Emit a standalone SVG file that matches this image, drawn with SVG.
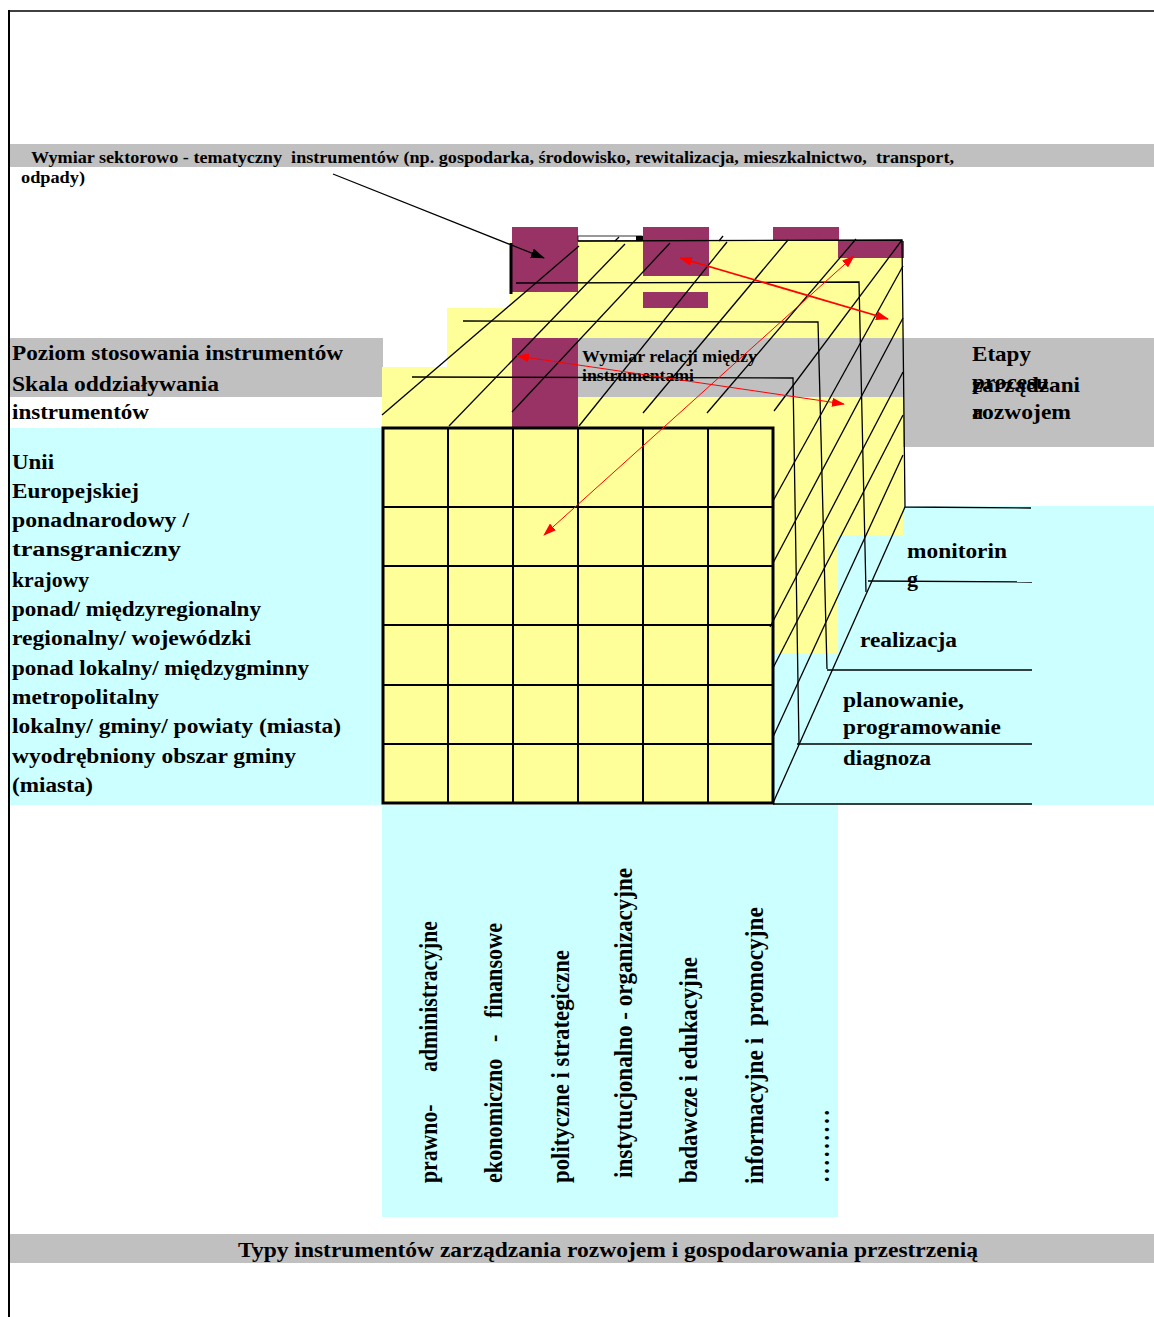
<svg xmlns="http://www.w3.org/2000/svg" width="1154" height="1317" viewBox="0 0 1154 1317">
<defs>
<marker id="ahB" viewBox="0 0 14 10" refX="13" refY="5" markerWidth="14" markerHeight="10" markerUnits="userSpaceOnUse" orient="auto"><path d="M0,0 L14,5 L0,10 z" fill="#000"/></marker>
<marker id="ahR" viewBox="0 0 13 9" refX="12" refY="4.5" markerWidth="13" markerHeight="9" markerUnits="userSpaceOnUse" orient="auto-start-reverse"><path d="M0,0 L13,4.5 L0,9 z" fill="#ff0000"/></marker>
</defs>
<style>
.t{font-family:"Liberation Serif","Times New Roman",serif;font-weight:bold;fill:#000}
.s20{font-size:20px}
.s22{font-size:22px}
.ln{stroke:#000;stroke-width:1.3;fill:none}
.gr{stroke:#000;fill:none}
.yel{fill:#ffff99}
.cyn{fill:#ccffff}
.gry{fill:#c0c0c0}
.mar{fill:#993366}
.red{stroke:#ff0000;fill:none}
</style>
<rect width="1154" height="1317" fill="#fff"/>

<g id="frame">
<line x1="9" y1="10" x2="9" y2="1317" stroke="#000" stroke-width="2"/>
<line x1="9" y1="11" x2="1154" y2="11" stroke="#000" stroke-width="1.5"/>
</g>

<g id="backgrounds">
<rect class="cyn" x="10" y="428" width="373" height="377"/>
<rect class="cyn" x="382" y="805" width="456" height="412"/>
<rect class="cyn" x="773" y="506" width="381" height="299"/>
<rect class="gry" x="10" y="338" width="373" height="59"/>
</g>

<g id="header">
<rect class="gry" x="10" y="144" width="1144" height="23"/>
<text class="t" x="31" y="163" font-size="16" textLength="923" lengthAdjust="spacingAndGlyphs" xml:space="preserve">Wymiar sektorowo - tematyczny  instrumentów (np. gospodarka, środowisko, rewitalizacja, mieszkalnictwo,  transport,</text>
<text class="t" x="21" y="183" font-size="16" textLength="64" lengthAdjust="spacingAndGlyphs">odpady)</text>
</g>

<g id="cube">
<rect class="yel" x="382" y="367" width="391" height="436"/>
<rect class="yel" x="447" y="308" width="391" height="345"/>
<rect class="yel" x="510" y="241" width="393" height="294"/>
<rect class="mar" x="512" y="227" width="66" height="65"/>
<rect class="mar" x="643" y="227" width="66" height="49"/>
<rect class="mar" x="643" y="292" width="65" height="16"/>
<rect class="mar" x="773" y="227" width="66" height="14"/>
<rect class="mar" x="838" y="241" width="66" height="17"/>
<rect class="mar" x="512" y="338" width="66" height="90"/>
<rect x="578" y="236" width="64" height="5" fill="#fff" stroke="#000" stroke-width="0.8"/>
<rect x="636" y="236" width="7" height="5" fill="#000"/>
<line x1="511" y1="243" x2="511" y2="294" stroke="#000" stroke-width="3"/>
</g>

<g id="relation-band">
<rect class="gry" x="578" y="338" width="576" height="59"/>
<rect class="gry" x="903" y="397" width="251" height="50"/>
</g>

<g id="cube-lines">
<!-- top face depth lines -->
<line class="ln" x1="382" y1="415" x2="579" y2="246"/>
<line class="ln" x1="449" y1="426" x2="625" y2="244"/>
<line class="ln" x1="512" y1="412" x2="670" y2="243"/>
<line class="ln" x1="579" y1="426" x2="727" y2="242"/>
<line class="ln" x1="643" y1="413" x2="788" y2="240"/>
<line class="ln" x1="707" y1="413" x2="856" y2="239"/>
<line class="ln" x1="774" y1="411" x2="902" y2="240"/>
<line class="ln" x1="615" y1="241" x2="619" y2="237"/>
<line class="ln" x1="719" y1="241" x2="723" y2="236"/>
<!-- right face depth lines -->
<line class="ln" x1="773" y1="501" x2="903" y2="266"/>
<line class="ln" x1="773" y1="563" x2="903" y2="318"/>
<line class="ln" x1="770" y1="627" x2="903" y2="372"/>
<line class="ln" x1="773" y1="668" x2="903" y2="415"/>
<line class="ln" x1="773" y1="737" x2="903" y2="455"/>
<line class="ln" x1="773" y1="803" x2="905" y2="507"/>
<!-- layer edges / stage boundaries -->
<polyline class="ln" points="578,241 902,240 905,507 1031,508"/>
<polyline class="ln" points="516,283 859,282 866,592"/>
<line class="ln" x1="868" y1="581" x2="1032" y2="582"/>
<polyline class="ln" points="463,321 818,322 827,669"/>
<line class="ln" x1="827" y1="670" x2="1032" y2="670"/>
<polyline class="ln" points="412,377 793,378 799,744"/>
<line class="ln" x1="797" y1="744" x2="1032" y2="744"/>
<line class="ln" x1="773" y1="804" x2="1032" y2="804"/>
</g>

<g id="front-grid">
<g class="gr" stroke-width="2">
<line x1="448" y1="428" x2="448" y2="803"/>
<line x1="513" y1="428" x2="513" y2="803"/>
<line x1="578" y1="428" x2="578" y2="803"/>
<line x1="643" y1="428" x2="643" y2="803"/>
<line x1="708" y1="428" x2="708" y2="803"/>
<line x1="383" y1="507" x2="773" y2="507"/>
<line x1="383" y1="566" x2="773" y2="566"/>
<line x1="383" y1="625" x2="773" y2="625"/>
<line x1="383" y1="685" x2="773" y2="685"/>
<line x1="383" y1="744" x2="773" y2="744"/>
</g>
<rect class="gr" x="383" y="428" width="390" height="375" stroke-width="3"/>
</g>

<g id="relation-label">
<text class="t" x="582" y="362" font-size="17" textLength="175" lengthAdjust="spacingAndGlyphs">Wymiar relacji między</text>
<text class="t" x="582" y="381" font-size="17" textLength="112" lengthAdjust="spacingAndGlyphs">instrumentami</text>
</g>

<g id="stages-label">
<text class="t" x="972" y="361" font-size="21" textLength="59" lengthAdjust="spacingAndGlyphs">Etapy</text>
<text class="t" x="972" y="389" font-size="21" textLength="77" lengthAdjust="spacingAndGlyphs">procesu</text>
<text class="t" x="972" y="392" font-size="21" textLength="108" lengthAdjust="spacingAndGlyphs">zarządzani</text>
<text class="t" x="972" y="419" font-size="21" textLength="11" lengthAdjust="spacingAndGlyphs">a</text>
<text class="t" x="972" y="419" font-size="21" textLength="99" lengthAdjust="spacingAndGlyphs">rozwojem</text>
</g>

<g id="stage-names">
<text class="t s20" x="907" y="558" textLength="100" lengthAdjust="spacingAndGlyphs">monitorin</text>
<text class="t s20" x="907" y="586" textLength="11" lengthAdjust="spacingAndGlyphs">g</text>
<text class="t s20" x="860" y="647" textLength="97" lengthAdjust="spacingAndGlyphs">realizacja</text>
<text class="t s20" x="843" y="707" textLength="121" lengthAdjust="spacingAndGlyphs">planowanie,</text>
<text class="t s20" x="843" y="734" textLength="158" lengthAdjust="spacingAndGlyphs">programowanie</text>
<text class="t s20" x="843" y="765" textLength="88" lengthAdjust="spacingAndGlyphs">diagnoza</text>
</g>

<g id="level-labels">
<text class="t s20" x="12" y="360" textLength="331" lengthAdjust="spacingAndGlyphs">Poziom stosowania instrumentów</text>
<text class="t s20" x="12" y="391" textLength="207" lengthAdjust="spacingAndGlyphs">Skala oddziaływania</text>
<text class="t s20" x="12" y="419" textLength="137" lengthAdjust="spacingAndGlyphs">instrumentów</text>
<text class="t s20" x="12" y="469" textLength="42" lengthAdjust="spacingAndGlyphs">Unii</text>
<text class="t s20" x="12" y="498" textLength="127" lengthAdjust="spacingAndGlyphs">Europejskiej</text>
<text class="t s20" x="12" y="527" textLength="177" lengthAdjust="spacingAndGlyphs">ponadnarodowy /</text>
<text class="t s20" x="12" y="556" textLength="169" lengthAdjust="spacingAndGlyphs">transgraniczny</text>
<text class="t s20" x="12" y="587" textLength="77" lengthAdjust="spacingAndGlyphs">krajowy</text>
<text class="t s20" x="12" y="616" textLength="249" lengthAdjust="spacingAndGlyphs">ponad/ międzyregionalny</text>
<text class="t s20" x="12" y="645" textLength="239" lengthAdjust="spacingAndGlyphs">regionalny/ wojewódzki</text>
<text class="t s20" x="12" y="675" textLength="297" lengthAdjust="spacingAndGlyphs">ponad lokalny/ międzygminny</text>
<text class="t s20" x="12" y="704" textLength="147" lengthAdjust="spacingAndGlyphs">metropolitalny</text>
<text class="t s20" x="12" y="733" textLength="329" lengthAdjust="spacingAndGlyphs">lokalny/ gminy/ powiaty (miasta)</text>
<text class="t s20" x="12" y="763" textLength="284" lengthAdjust="spacingAndGlyphs">wyodrębniony obszar gminy</text>
<text class="t s20" x="12" y="792" textLength="81" lengthAdjust="spacingAndGlyphs">(miasta)</text>
</g>

<g id="type-labels">
<text class="t s22" transform="translate(437 1183) scale(1.15 1) rotate(-90)" textLength="262" lengthAdjust="spacingAndGlyphs" xml:space="preserve">prawno-      administracyjne</text>
<text class="t s22" transform="translate(502 1183) scale(1.15 1) rotate(-90)" textLength="260" lengthAdjust="spacingAndGlyphs" xml:space="preserve">ekonomiczno   -   finansowe</text>
<text class="t s22" transform="translate(569 1183) scale(1.15 1) rotate(-90)" textLength="233" lengthAdjust="spacingAndGlyphs">polityczne i strategiczne</text>
<text class="t s22" transform="translate(632 1178) scale(1.15 1) rotate(-90)" textLength="310" lengthAdjust="spacingAndGlyphs">instytucjonalno - organizacyjne</text>
<text class="t s22" transform="translate(697 1183) scale(1.15 1) rotate(-90)" textLength="226" lengthAdjust="spacingAndGlyphs">badawcze i edukacyjne</text>
<text class="t s22" transform="translate(763 1184) scale(1.15 1) rotate(-90)" textLength="277" lengthAdjust="spacingAndGlyphs" xml:space="preserve">informacyjne i  promocyjne</text>
<text class="t s22" transform="translate(829 1182) scale(1.15 1) rotate(-90)" textLength="72" lengthAdjust="spacing">.........</text>
</g>

<g id="footer">
<rect class="gry" x="10" y="1234" width="1144" height="29"/>
<text class="t" x="238" y="1257" font-size="21" textLength="740" lengthAdjust="spacingAndGlyphs">Typy instrumentów zarządzania rozwojem i gospodarowania przestrzenią</text>
</g>

<g id="connectors">
<line x1="333" y1="174" x2="544" y2="258" stroke="#000" stroke-width="1.3" marker-end="url(#ahB)"/>
<line class="red" x1="680" y1="258" x2="888" y2="319" stroke-width="1.8" marker-start="url(#ahR)" marker-end="url(#ahR)"/>
<line class="red" x1="517" y1="356" x2="844" y2="404" stroke-width="1" marker-start="url(#ahR)" marker-end="url(#ahR)"/>
<line class="red" x1="544" y1="535" x2="854" y2="256" stroke-width="1" marker-start="url(#ahR)" marker-end="url(#ahR)"/>
</g>
</svg>
